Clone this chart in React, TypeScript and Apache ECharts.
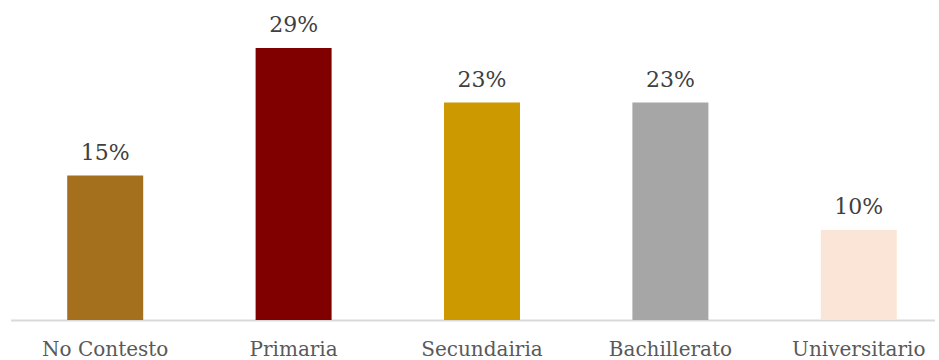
import React, { useEffect, useRef } from "react";
import * as echarts from "echarts";

const categories = ["No Contesto", "Primaria", "Secundairia", "Bachillerato", "Universitario"];
const values = [15.4, 29.0, 23.2, 23.2, 9.6];
const colors = ["#A5701E", "#800000", "#CC9900", "#A6A6A6", "#FBE5D6"];

export default function App() {
  const ref = useRef<HTMLDivElement>(null);
  useEffect(() => {
    document.body.style.margin = "0";
    const chart = echarts.init(ref.current!, null, { renderer: "svg" });
    chart.setOption({
      animation: false,
      grid: { left: 11, top: 38.6, right: 0, bottom: 40, containLabel: false },
      xAxis: {
        type: "category",
        data: categories,
        axisLine: { show: false },
        axisTick: { show: false },
        axisLabel: {
          color: "#595959",
          fontFamily: "DejaVu Serif",
          fontSize: 20,
          margin: 19,
          interval: 0,
        },
      },
      yAxis: {
        type: "value",
        min: 0,
        max: 30,
        show: false,
        splitLine: { show: false },
      },
      graphic: [
        {
          type: "line",
          shape: { x1: 11, y1: 320.5, x2: 935, y2: 320.5 },
          style: { stroke: "#D9D9D9", lineWidth: 2 },
          silent: true,
        },
      ],
      series: [
        {
          type: "bar",
          barWidth: 76,
          data: values.map((v, i) => ({ value: v, itemStyle: { color: colors[i] } })),
          label: {
            show: true,
            position: "top",
            distance: 12,
            color: "#404040",
            fontFamily: "DejaVu Serif",
            fontSize: 22,
            formatter: (p: any) => Math.round(p.value) + "%",
          },
        },
      ],
    });
    return () => chart.dispose();
  }, []);
  return (
    <div style={{ width: 939, height: 360, overflow: "hidden", position: "relative" }}>
      <div ref={ref} style={{ width: 953, height: 360 }} />
    </div>
  );
}
